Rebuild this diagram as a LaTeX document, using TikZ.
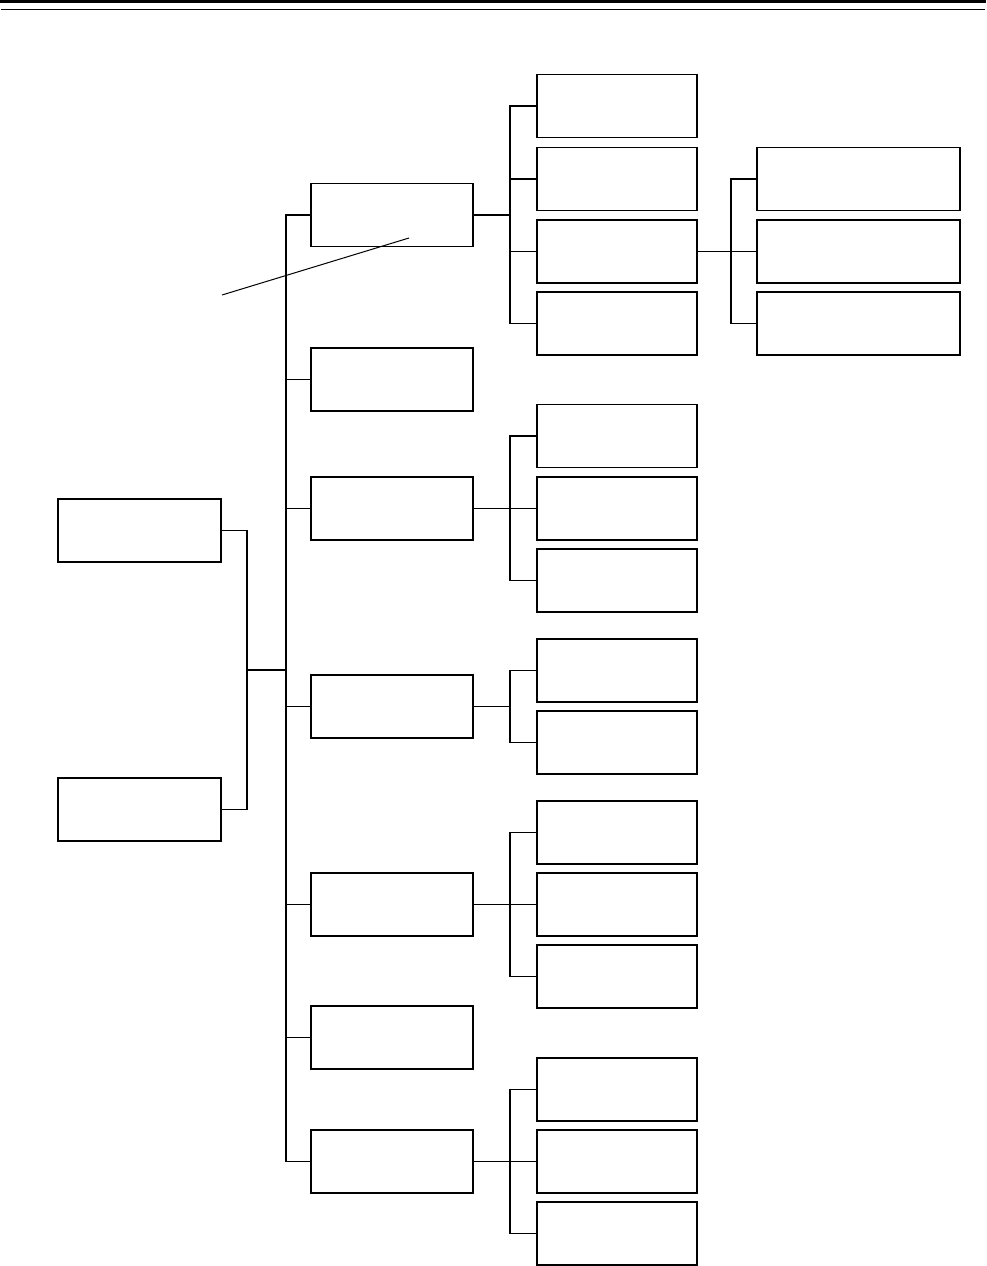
\documentclass[tikz,border=0pt]{standalone}
\usepackage{tikz}

\begin{document}
\begin{tikzpicture}[x=1pt, y=-1pt, line width=1.2pt,
	box/.style={draw, rectangle, inner sep=0pt, outer sep=0pt, minimum height=63pt, minimum width=162pt},
	widebox/.style={box, minimum width=203pt}]
	\useasboundingbox (0,0) rectangle (986,1266);
	% page rules
	\fill (0,0) rectangle (986,3.3);
	\draw[line width=1pt] (1,9.3) -- (985,9.3);
	% left pair
	\node[box, minimum width=163pt] (src1) at (139.5,530.5) {};
	\node[box, minimum width=163pt] (src2) at (139.5,809.5) {};
	\coordinate (jsrc) at (247,670);
	\coordinate (trunk) at (286,670);
	\draw (src1.east) -| (jsrc) |- (src2.east);
	\draw (jsrc) -- (trunk);
	% first level
	\node[box] (grpA) at (392,215) {};
	\node[box] (grpB) at (392,379.5) {};
	\node[box] (grpC) at (392,508.5) {};
	\node[box] (grpD) at (392,706.5) {};
	\node[box] (grpE) at (392,904.5) {};
	\node[box] (grpF) at (392,1037.5) {};
	\node[box] (grpG) at (392,1161.5) {};
	\draw (grpA.west) -| (trunk) |- (grpG.west);
	\foreach \g in {B,C,D,E,F}
		\draw (grp\g.west) -- (grp\g.west -| trunk);
	% second level
	\foreach \n/\y in {1/106, 2/179, 3/251.5, 4/323.5}
		\node[box, minimum width=160pt] (itemA\n) at (617,\y) {};
	\foreach \n/\y in {1/436, 2/508.5, 3/580.5}
		\node[box, minimum width=160pt] (itemC\n) at (617,\y) {};
	\foreach \n/\y in {1/670.5, 2/742.5}
		\node[box, minimum width=160pt] (itemD\n) at (617,\y) {};
	\foreach \n/\y in {1/832.5, 2/904.5, 3/976.5}
		\node[box, minimum width=160pt] (itemE\n) at (617,\y) {};
	\foreach \n/\y in {1/1089.5, 2/1161.5, 3/1233.5}
		\node[box, minimum width=160pt] (itemG\n) at (617,\y) {};
	\draw (grpA.east) -- ++(37,0) coordinate (busA);
	\draw (grpC.east) -- ++(37,0) coordinate (busC);
	\draw (grpD.east) -- ++(37,0) coordinate (busD);
	\draw (grpE.east) -- ++(37,0) coordinate (busE);
	\draw (grpG.east) -- ++(37,0) coordinate (busG);
	\foreach \n in {1,...,4} \draw (itemA\n.west) -| (busA);
	\foreach \n in {1,...,3} \draw (itemC\n.west) -| (busC);
	\foreach \n in {1,2} \draw (itemD\n.west) -| (busD);
	\foreach \n in {1,...,3} \draw (itemE\n.west) -| (busE);
	\foreach \n in {1,...,3} \draw (itemG\n.west) -| (busG);
	% third level
	\node[widebox] (subA1) at (858.5,179) {};
	\node[widebox] (subA2) at (858.5,251.5) {};
	\node[widebox] (subA3) at (858.5,323.5) {};
	\draw (itemA3.east) -- ++(34,0) coordinate (busA3);
	\foreach \n in {1,...,3} \draw (subA\n.west) -| (busA3);
	% pointer line
	\draw[line width=1pt] (222,295) -- (409,238);
\end{tikzpicture}
\end{document}
